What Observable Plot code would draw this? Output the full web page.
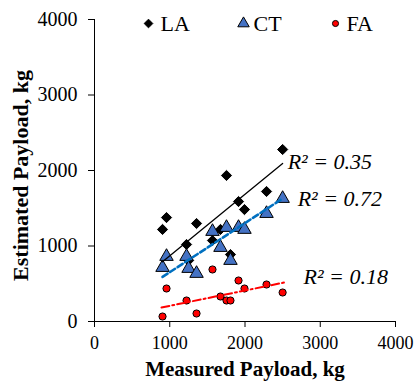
<!DOCTYPE html>
<html><head><meta charset="utf-8">
<script src="https://cdn.jsdelivr.net/npm/d3@7"></script>
<script src="https://cdn.jsdelivr.net/npm/@observablehq/plot@0.6"></script>
<style>body{margin:0;background:#fff}</style>
</head><body><div id="chart"></div>
<script>
// ---- data ----
const measured = [904, 957, 1223, 1250, 1356, 1568, 1674, 1754, 1807, 1914, 1993, 2286, 2500];
const LA = [1219, 1377, 1020, 808, 1298, 1073, 1219, 1934, 887, 1589, 1483, 1722, 2278];
const CT = [715, 861, 861, 702, 636, 1192, 980, 1245, 808, 1245, 1219, 1430, 1629];
const FA = [66, 437, 278, null, 106, 689, 331, 278, 278, 543, 437, 490, 384];
const seriesNames = ["LA", "CT", "FA"];
// trend lines as drawn in the picture (start and end, in kg)
const trendX = [[904, 2500], [904, 2500], [890, 2525]];
const trendY = [[790, 2093], [590, 1629], [185, 517]];
const r2Labels = ["R² = 0.35", "R² = 0.72", "R² = 0.18"];
const xTicks = [0, 1000, 2000, 3000, 4000];
const yTicks = [0, 1000, 2000, 3000, 4000];
const xTitle = "Measured Payload, kg";
const yTitle = "Estimated Payload, kg";

// ---- styles ----
const styles = {
  LA: {symbol: "diamond2", fill: "black", r: 4.6, line: "black", width: 1.3, dash: null, legDx: 54, txtDx: 66, lblDx: 5, lblDy: -2},
  CT: {symbol: "triangle", fill: "#4472C4", r: 5, line: "#0070C0", width: 2.6, dash: "6,3", legDx: 149, txtDx: 159, lblDx: 15, lblDy: 0},
  FA: {symbol: "circle", fill: "#FF0000", r: 3.6, line: "#FF0000", width: 2, dash: "8,3,2,3", legDx: 241, txtDx: 252, lblDx: 19, lblDy: -6}
};
const font = "Liberation Serif, Times New Roman, serif";

const valuesBySeries = [LA, CT, FA];
const seriesRows = seriesNames.map((s, i) =>
  measured.map((m, j) => ({series: s, measured: m, estimated: valuesBySeries[i][j]}))
    .filter(d => d.estimated != null));
const trendRows = seriesNames.map((s, i) =>
  trendX[i].map((x, j) => ({series: s, measured: x, estimated: trendY[i][j]})));

const marks = [
  Plot.ruleX([0], {stroke: "black", strokeWidth: 1}),
  Plot.ruleY([0], {stroke: "black", strokeWidth: 1}),
  Plot.axisX({ticks: xTicks, tickSize: 6, tickPadding: 9, fontSize: 18, tickFormat: d => String(d), label: null}),
  Plot.axisY({ticks: yTicks, tickSize: 6, tickPadding: 11, fontSize: 20, tickFormat: d => String(d), label: null}),
  Plot.text([xTitle], {frameAnchor: "bottom", textAnchor: "middle", lineAnchor: "middle", dy: 48, fontWeight: "bold", fontSize: 21, fill: "black"}),
  Plot.text([yTitle], {frameAnchor: "left", textAnchor: "middle", lineAnchor: "middle", rotate: -90, dx: -74, dy: 5, fontWeight: "bold", fontSize: 22, fill: "black"})
];

seriesNames.forEach((s, i) => {
  const st = styles[s];
  marks.push(Plot.dot(seriesRows[i], {x: "measured", y: "estimated", symbol: () => st.symbol, fill: st.fill, stroke: "black", strokeWidth: 1, r: st.r}));
});
seriesNames.forEach((s, i) => {
  const st = styles[s];
  marks.push(Plot.line(trendRows[i], {x: "measured", y: "estimated", stroke: st.line, strokeWidth: st.width, strokeDasharray: st.dash}));
  const e = trendRows[i][1];
  marks.push(Plot.text([r2Labels[i]], {x: () => e.measured, y: () => e.estimated, text: d => d, textAnchor: "start", lineAnchor: "middle", dx: st.lblDx, dy: st.lblDy, fontStyle: "italic", fontSize: 22, fill: "black"}));
  // legend
  marks.push(Plot.dot([s], {frameAnchor: "top-left", dx: st.legDx, dy: 4, symbol: () => st.symbol, fill: st.fill, stroke: "black", strokeWidth: 1, r: st.r * 0.85}));
  marks.push(Plot.text([s], {frameAnchor: "top-left", dx: st.txtDx, dy: 4, text: d => d, textAnchor: "start", lineAnchor: "middle", fontSize: 22, fill: "black"}));
});

const chart = Plot.plot({
  width: 417, height: 383,
  marginLeft: 94, marginRight: 22, marginTop: 19, marginBottom: 62,
  style: {fontFamily: font, background: "white", color: "black"},
  x: {domain: [0, 4000]},
  y: {domain: [0, 4000]},
  symbol: {type: "identity"},
  marks
});
document.getElementById("chart").appendChild(chart);
</script>
</body></html>
